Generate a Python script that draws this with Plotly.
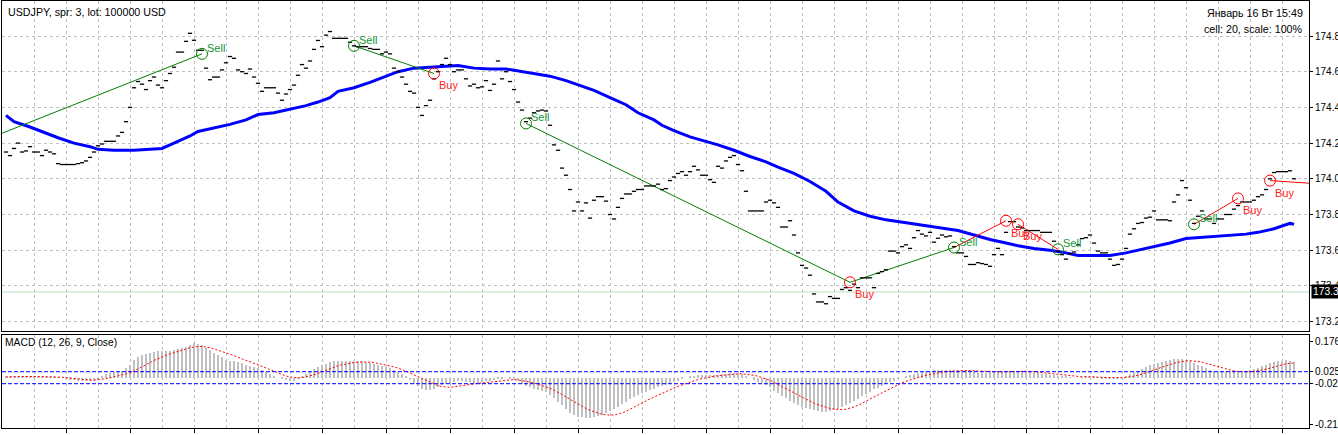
import plotly.graph_objects as go

# ---------------- data ----------------
close = [
    174.15,174.13,174.17,174.20,174.15,174.156,174.18,174.15,
    174.15,174.13,174.16,174.15,174.14,174.085,174.08,174.08,
    174.08,174.08,174.085,174.09,174.10,174.12,174.15,174.185,
    174.195,174.21,174.21,174.21,174.24,174.26,174.32,174.40,
    174.51,174.545,174.53,174.50,174.55,174.57,174.525,174.51,
    174.55,174.59,174.625,174.71,174.71,174.77,174.815,174.776,
    174.72,174.72,174.62,174.555,174.57,174.57,174.61,174.65,
    174.685,174.675,174.61,174.60,174.59,174.615,174.57,174.535,
    174.49,174.51,174.51,174.51,174.48,174.44,174.475,174.50,
    174.525,174.58,174.64,174.62,174.66,174.725,174.775,174.74,
    174.805,174.825,174.787,174.787,174.787,174.787,174.765,174.745,
    174.74,174.74,174.74,174.73,174.725,174.725,174.70,174.71,
    174.70,174.62,174.60,174.57,174.53,174.49,174.48,174.40,
    174.355,174.41,174.44,174.56,174.60,174.64,174.675,174.64,
    174.60,174.61,174.61,174.56,174.52,174.53,174.51,174.515,
    174.55,174.495,174.53,174.66,174.56,174.60,174.545,174.50,
    174.43,174.385,174.32,174.34,174.37,174.38,174.385,174.38,
    174.30,174.19,174.16,174.06,174.02,173.94,173.82,173.87,
    173.82,173.865,173.78,173.88,173.90,173.90,173.875,173.80,
    173.775,173.84,173.89,173.915,173.915,173.93,173.94,173.94,
    173.96,173.96,173.96,173.97,173.94,173.945,173.99,174.01,
    174.03,174.04,174.02,174.04,174.07,174.05,174.02,174.02,
    173.995,173.98,174.07,174.06,174.10,174.12,174.13,174.08,
    174.045,173.93,173.82,173.82,173.82,173.82,173.87,173.88,
    173.865,173.84,173.73,173.73,173.765,173.685,173.585,173.515,
    173.50,173.46,173.355,173.31,173.31,173.30,173.34,173.33,
    173.33,173.38,173.39,173.375,173.41,173.39,173.445,173.445,
    173.445,173.39,173.47,173.48,173.49,173.595,173.595,173.585,
    173.62,173.63,173.61,173.67,173.71,173.69,173.68,173.70,
    173.645,173.667,173.685,173.675,173.68,173.62,173.585,173.585,
    173.565,173.52,173.52,173.53,173.525,173.52,173.51,173.575,
    173.61,173.575,173.70,173.76,173.76,173.73,173.725,173.71,
    173.71,173.71,173.71,173.70,173.70,173.70,173.65,173.595,
    173.575,173.55,173.58,173.59,173.63,173.665,173.67,173.685,
    173.64,173.595,173.585,173.585,173.55,173.515,173.52,173.55,
    173.61,173.69,173.72,173.75,173.755,173.78,173.785,173.82,
    173.77,173.77,173.77,173.765,173.87,173.91,173.99,173.95,
    173.88,173.75,173.79,173.82,173.775,173.775,173.75,173.775,
    173.775,173.80,173.80,173.83,173.85,173.87,173.87,173.87,
    173.88,173.90,173.91,173.94,174.00,174.035,174.04,174.04,
    174.04,174.045,174.00,
]

ma_bar = [0,2,6,10,13,17,21,23,27,32,36,39,42,46,48,52,56,60,63,67,71,75,78,81,83,87,91,95,98,
          102,106,110,113,117,121,125,128,132,136,140,143,147,151,155,158,162,164,167,171,175,178,
          182,186,190,193,197,201,205,208,212,216,220,223,227,231,235,238,242,246,250,253,257,261,
          265,268,272,276,280,283,287,291,295,298,302,306,310,313,317,321,322]
ma_val = [174.355,174.32,174.29,174.255,174.23,174.20,174.18,174.165,174.16,174.16,174.165,174.17,
          174.20,174.24,174.265,174.285,174.305,174.33,174.36,174.37,174.39,174.41,174.43,174.455,
          174.49,174.51,174.54,174.575,174.60,174.62,174.625,174.63,174.635,174.62,174.615,174.615,
          174.605,174.59,174.575,174.55,174.525,174.495,174.455,174.415,174.37,174.33,174.30,174.27,
          174.235,174.21,174.19,174.16,174.125,174.095,174.065,174.03,173.985,173.93,173.87,173.82,
          173.79,173.77,173.76,173.75,173.737,173.72,173.71,173.685,173.66,173.64,173.625,173.61,
          173.60,173.585,173.57,173.57,173.57,173.585,173.60,173.62,173.64,173.665,173.67,173.68,
          173.685,173.69,173.70,173.72,173.75,173.745]

macd_hist = [
    0.007,0.007,0.008,0.008,0.007,0.007,0.006,0.006,
    0.005,0.005,0.004,0.004,0.003,0.002,0.0,-0.003,
    -0.008,-0.01,-0.012,-0.013,-0.014,-0.013,-0.012,-0.008,
    0.005,0.015,0.02,0.022,0.025,0.03,0.04,0.055,
    0.075,0.088,0.095,0.10,0.105,0.108,0.11,0.11,
    0.11,0.112,0.115,0.12,0.125,0.13,0.138,0.143,
    0.14,0.135,0.125,0.115,0.105,0.095,0.085,0.075,
    0.07,0.068,0.065,0.06,0.055,0.05,0.045,0.04,
    0.032,0.025,0.015,0.008,0.0,-0.006,-0.01,-0.012,
    -0.012,-0.005,0.005,0.015,0.025,0.035,0.045,0.052,
    0.058,0.064,0.068,0.07,0.071,0.07,0.07,0.07,
    0.069,0.068,0.065,0.062,0.058,0.054,0.05,0.046,
    0.04,0.032,0.024,0.015,0.005,-0.01,-0.025,-0.035,
    -0.045,-0.05,-0.05,-0.048,-0.04,-0.032,-0.025,-0.02,
    -0.018,-0.015,-0.015,-0.016,-0.018,-0.02,-0.02,-0.018,
    -0.015,-0.012,-0.01,-0.006,-0.002,0.0,-0.002,-0.008,
    -0.015,-0.025,-0.035,-0.04,-0.045,-0.05,-0.055,-0.06,
    -0.07,-0.085,-0.1,-0.115,-0.13,-0.145,-0.155,-0.162,
    -0.165,-0.168,-0.168,-0.165,-0.16,-0.155,-0.148,-0.14,
    -0.13,-0.12,-0.11,-0.1,-0.09,-0.08,-0.072,-0.065,
    -0.058,-0.05,-0.045,-0.04,-0.035,-0.03,-0.024,-0.018,
    -0.012,-0.006,0.0,0.004,0.008,0.01,0.012,0.013,
    0.012,0.01,0.012,0.014,0.016,0.018,0.02,0.018,
    0.014,0.008,0.0,-0.008,-0.016,-0.024,-0.032,-0.04,
    -0.055,-0.065,-0.075,-0.085,-0.095,-0.105,-0.113,-0.12,
    -0.127,-0.132,-0.136,-0.14,-0.142,-0.142,-0.14,-0.136,
    -0.13,-0.123,-0.115,-0.106,-0.097,-0.087,-0.077,-0.067,
    -0.058,-0.049,-0.041,-0.033,-0.026,-0.019,-0.012,-0.006,
    0.0,0.005,0.01,0.015,0.02,0.024,0.028,0.03,
    0.032,0.033,0.034,0.034,0.033,0.032,0.03,0.028,
    0.026,0.024,0.022,0.02,0.02,0.021,0.022,0.024,
    0.026,0.028,0.03,0.03,0.029,0.028,0.026,0.024,
    0.022,0.02,0.018,0.016,0.014,0.012,0.01,0.008,
    0.006,0.004,0.002,0.0,0.0,0.002,0.004,0.004,
    0.003,0.001,-0.002,-0.004,-0.005,-0.004,-0.002,0.002,
    0.008,0.015,0.022,0.03,0.038,0.045,0.052,0.058,
    0.062,0.066,0.07,0.073,0.076,0.08,0.078,0.074,
    0.068,0.062,0.055,0.048,0.04,0.034,0.03,0.028,
    0.027,0.026,0.026,0.026,0.027,0.028,0.03,0.033,
    0.037,0.042,0.048,0.054,0.06,0.065,0.068,0.07,
    0.072,0.068,0.066,
]

macd_signal = [
    0.003,0.004,0.004,0.005,0.005,0.005,0.005,0.005,
    0.005,0.005,0.005,0.005,0.004,0.003,0.002,0.0,
    -0.002,-0.004,-0.006,-0.008,-0.009,-0.01,-0.01,-0.009,
    -0.007,-0.004,0.0,0.004,0.008,0.012,0.016,0.02,
    0.028,0.036,0.045,0.054,0.063,0.072,0.08,0.087,
    0.093,0.099,0.105,0.11,0.115,0.12,0.125,0.128,
    0.13,0.13,0.128,0.125,0.12,0.115,0.11,0.105,
    0.098,0.092,0.085,0.078,0.072,0.066,0.06,0.054,
    0.047,0.04,0.033,0.026,0.019,0.012,0.007,0.003,
    0.0,-0.001,0.0,0.003,0.007,0.012,0.018,0.025,
    0.032,0.038,0.044,0.05,0.054,0.058,0.061,0.063,
    0.065,0.066,0.066,0.065,0.063,0.06,0.057,0.054,
    0.05,0.045,0.04,0.034,0.028,0.02,0.012,0.004,
    -0.004,-0.012,-0.02,-0.027,-0.033,-0.037,-0.04,-0.04,
    -0.038,-0.035,-0.032,-0.03,-0.028,-0.026,-0.024,-0.022,
    -0.02,-0.018,-0.016,-0.014,-0.012,-0.01,-0.008,-0.008,
    -0.009,-0.011,-0.014,-0.018,-0.022,-0.027,-0.032,-0.038,
    -0.044,-0.052,-0.06,-0.07,-0.08,-0.09,-0.1,-0.11,
    -0.12,-0.128,-0.136,-0.143,-0.148,-0.152,-0.155,-0.156,
    -0.155,-0.152,-0.147,-0.14,-0.132,-0.124,-0.115,-0.106,
    -0.097,-0.088,-0.08,-0.072,-0.064,-0.057,-0.05,-0.043,
    -0.036,-0.03,-0.024,-0.018,-0.013,-0.008,-0.004,0.0,
    0.003,0.006,0.008,0.01,0.012,0.014,0.015,0.016,
    0.016,0.015,0.013,0.01,0.006,0.001,-0.005,-0.011,
    -0.02,-0.028,-0.036,-0.045,-0.054,-0.063,-0.072,-0.081,
    -0.09,-0.098,-0.106,-0.113,-0.119,-0.124,-0.128,-0.131,
    -0.133,-0.133,-0.131,-0.127,-0.122,-0.115,-0.107,-0.099,
    -0.09,-0.081,-0.072,-0.063,-0.054,-0.045,-0.037,-0.029,
    -0.021,-0.015,-0.009,-0.004,0.001,0.006,0.01,0.014,
    0.017,0.02,0.023,0.025,0.027,0.028,0.029,0.03,
    0.03,0.029,0.028,0.027,0.026,0.025,0.024,0.024,
    0.024,0.024,0.025,0.026,0.027,0.027,0.027,0.027,
    0.026,0.025,0.024,0.022,0.02,0.018,0.016,0.014,
    0.012,0.01,0.008,0.006,0.005,0.004,0.004,0.004,
    0.004,0.003,0.002,0.001,0.0,-0.001,-0.001,0.0,
    0.001,0.003,0.006,0.01,0.015,0.02,0.026,0.032,
    0.038,0.044,0.05,0.055,0.06,0.064,0.068,0.07,
    0.071,0.07,0.068,0.065,0.06,0.055,0.05,0.045,
    0.04,0.035,0.031,0.028,0.026,0.025,0.025,0.025,
    0.026,0.028,0.031,0.035,0.04,0.045,0.05,0.055,
    0.058,0.06,0.062,
]

trade_bar = [49, 87, 107, 130, 211, 237, 250, 253, 263, 297, 308, 316]
trade_price = [174.70, 174.745, 174.59, 174.31, 173.42, 173.615, 173.765, 173.745, 173.605,
               173.745, 173.89, 173.99]
trade_side = ["Sell", "Sell", "Buy", "Sell", "Buy", "Sell", "Buy", "Buy", "Sell", "Sell", "Buy", "Buy"]

link_x0 = [-1, 87, 130, 211, 237, 253, 297, 316]
link_y0 = [174.255, 174.745, 174.31, 173.42, 173.615, 173.745, 173.745, 173.99]
link_x1 = [49, 107, 211, 237, 250, 263, 308, 326]
link_y1 = [174.70, 174.59, 173.42, 173.615, 173.765, 173.605, 173.89, 173.975]
link_kind = ["g", "g", "g", "g", "r", "r", "r", "r"]

price_ticks = [173.2, 173.4, 173.6, 173.8, 174.0, 174.2, 174.4, 174.6, 174.8]
price_labels = ["173.2", "173.4", "173.6", "173.8", "174.0", "174.2", "174.4", "174.6", "174.8"]
current_price = 173.366
current_label = "173.3"

macd_levels = [0.025, -0.025]
macd_tick_vals = [0.150, 0.025, -0.0233, -0.193]
macd_tick_text = ["0.176", "0.025", "-0.02", "-0.21"]

header_left = "USDJPY, spr: 3, lot: 100000 USD"
header_right1 = "Январь 16 Вт 15:49"
header_right2 = "cell: 20, scale: 100%"
macd_title = "MACD (12, 26, 9, Close)"

# ---------------- figure ----------------
W, H = 1338, 435
FONT = "Liberation Sans, Arial, sans-serif"
GREEN = "#008000"
RED = "#ff0000"
FS = 10.7

def py(px):  # pixel from top -> paper y
    return (H - px) / H

xdom = [2 / W, 1309 / W]
xr = [-1, 325.75]
bars = list(range(len(close)))

fig = go.Figure()

# MA line
fig.add_trace(go.Scatter(x=ma_bar, y=ma_val, mode="lines", line=dict(color="#0000ff", width=3),
                         xaxis="x", yaxis="y", hoverinfo="skip"))

# trade links
for x0, y0, x1, y1, k in zip(link_x0, link_y0, link_x1, link_y1, link_kind):
    fig.add_trace(go.Scatter(x=[x0, x1], y=[y0, y1], mode="lines",
                             line=dict(color=GREEN if k == "g" else RED, width=1),
                             xaxis="x", yaxis="y", hoverinfo="skip"))

# price bars (tiny dashes)
fig.add_trace(go.Scatter(x=bars, y=close, mode="markers",
                         marker=dict(symbol="line-ew", size=3, line=dict(color="black", width=1.3)),
                         xaxis="x", yaxis="y", hoverinfo="skip"))

# trade markers
for side in ("Sell", "Buy"):
    xs = [b for b, s in zip(trade_bar, trade_side) if s == side]
    ys = [p for p, s in zip(trade_price, trade_side) if s == side]
    fig.add_trace(go.Scatter(x=xs, y=ys, mode="markers",
                             marker=dict(symbol="circle-open", size=11,
                                         line=dict(color=GREEN if side == "Sell" else RED, width=1),
                                         color=GREEN if side == "Sell" else RED),
                             xaxis="x", yaxis="y", hoverinfo="skip"))

# MACD histogram and signal
fig.add_trace(go.Bar(x=bars, y=macd_hist, width=0.72, marker=dict(color="#c0c0c0", line=dict(width=0)),
                     xaxis="x2", yaxis="y2", hoverinfo="skip"))
fig.add_trace(go.Scatter(x=bars, y=macd_signal, mode="lines",
                         line=dict(color=RED, width=1, dash="2px,2px"),
                         xaxis="x2", yaxis="y2", hoverinfo="skip"))

shapes = []
for lv in macd_levels:
    shapes.append(dict(type="line", xref="paper", yref="y2", x0=xdom[0], x1=xdom[1], y0=lv, y1=lv,
                       line=dict(color="#0000ff", width=1, dash="4px,2px"), layer="above"))
shapes.append(dict(type="line", xref="paper", yref="y", x0=xdom[0], x1=xdom[1],
                   y0=current_price, y1=current_price, line=dict(color="#c0dcc0", width=1), layer="below"))

annotations = []
for b, p, s in zip(trade_bar, trade_price, trade_side):
    if s == "Sell":
        annotations.append(dict(x=b, y=p, xref="x", yref="y", text=s, showarrow=False,
                                xanchor="left", yanchor="middle", xshift=3, yshift=6,
                                font=dict(family=FONT, size=11, color="#10943a")))
    else:
        annotations.append(dict(x=b, y=p, xref="x", yref="y", text=s, showarrow=False,
                                xanchor="left", yanchor="middle", xshift=3, yshift=-12,
                                font=dict(family=FONT, size=11, color="#ff2020")))

annotations += [
    dict(x=6 / W, y=py(12), xref="paper", yref="paper", text=header_left, showarrow=False,
         xanchor="left", yanchor="middle", font=dict(family=FONT, size=FS, color="#000000")),
    dict(x=1305 / W, y=py(13), xref="paper", yref="paper", text=header_right1, showarrow=False,
         xanchor="right", yanchor="middle", font=dict(family=FONT, size=FS, color="#000000")),
    dict(x=1305 / W, y=py(29), xref="paper", yref="paper", text=header_right2, showarrow=False,
         xanchor="right", yanchor="middle", font=dict(family=FONT, size=FS, color="#000000")),
    dict(x=3 / W, y=py(342), xref="paper", yref="paper", text=macd_title, showarrow=False,
         xanchor="left", yanchor="middle", font=dict(family=FONT, size=10.3, color="#000000")),
    dict(x=1311 / W, y=current_price, xref="paper", yref="y", text=current_label, showarrow=False,
         xanchor="left", yanchor="middle", bgcolor="#000000", borderpad=1,
         font=dict(family=FONT, size=10.3, color="#ffffff")),
]

grid_vals = [7 + 8 * k for k in range(41)]
tick_vals = [15 + 16 * k for k in range(21)]

axis_common = dict(showline=True, mirror=True, linecolor="#000000", linewidth=1, zeroline=False,
                   automargin=False)

fig.update_layout(
    template="none",
    width=W, height=H, margin=dict(l=0, r=0, t=0, b=0, autoexpand=False),
    paper_bgcolor="#ffffff", plot_bgcolor="#ffffff", showlegend=False, bargap=0,
    font=dict(family=FONT, size=11, color="#000000"),
    xaxis=dict(domain=xdom, range=xr, anchor="y", tickmode="array", tickvals=grid_vals,
               showticklabels=False, ticks="", showgrid=True, gridcolor="#c0c0c0", griddash="3px,3px",
               gridwidth=1, **axis_common),
    yaxis=dict(domain=[py(331), py(1)], range=[173.1473, 174.9961], side="right", anchor="x",
               tickmode="array", tickvals=price_ticks, ticktext=price_labels, ticks="outside",
               ticklen=3, tickcolor="#000000", showgrid=True, gridcolor="#c0c0c0", griddash="3px,3px",
               gridwidth=1, tickfont=dict(family=FONT, size=10, color="#000000"), **axis_common),
    xaxis2=dict(domain=xdom, range=xr, anchor="y2", tickmode="array", tickvals=tick_vals,
                showticklabels=False, ticks="outside", ticklen=4, tickcolor="#000000",
                showgrid=True, gridcolor="#c0c0c0", griddash="3px,3px", gridwidth=1,
                minor=dict(tickmode="array", tickvals=grid_vals, showgrid=True, gridcolor="#c0c0c0",
                           griddash="3px,3px", gridwidth=1, ticks=""),
                **axis_common),
    yaxis2=dict(domain=[py(428), py(335)], range=[-0.2096, 0.1779], side="right", anchor="x2",
                tickmode="array", tickvals=macd_tick_vals, ticktext=macd_tick_text, ticks="outside",
                ticklen=3, tickcolor="#000000", showgrid=False,
                tickfont=dict(family=FONT, size=10, color="#000000"), **axis_common),
    shapes=shapes, annotations=annotations,
)

fig.write_html("out.html")
